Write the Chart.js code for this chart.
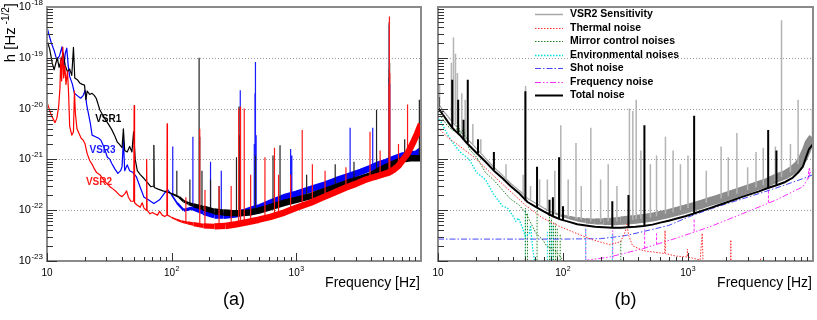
<!DOCTYPE html>
<html>
<head>
<meta charset="utf-8">
<script src="https://cdn.jsdelivr.net/npm/chart.js@4.4.1/dist/chart.umd.min.js"></script>
<style>
  body { margin: 0; background: #fff; }
  #wrap { position: relative; width: 817px; height: 320px; overflow: hidden; }
  canvas { position: absolute; left: 0; top: 0; }
</style>
</head>
<body>
<div id="wrap">
  <canvas id="panelA" width="817" height="320"></canvas>
  <canvas id="panelB" width="817" height="320"></canvas>
</div>
<script>
const FONT = '"Liberation Sans", Arial, Helvetica, sans-serif';

// decade ticks
const yDecades = [1e-18, 1e-19, 1e-20, 1e-21, 1e-22, 1e-23];
const yDecadeExp = ['-18', '-19', '-20', '-21', '-22', '-23'];
const xDecades = [10, 100, 1000];
const xDecadeExp = ['', '2', '3'];

// ---- panel (a): [frequency Hz, h] ----
const vsr2 = [[10,1.35e-20],[10.4,1e-20],[10.8,7.5e-21],[11.3,6e-21],[11.6,5.3e-21],[12,6.5e-21],[12.4,1.1e-20],[12.7,2.5e-20],[12.9,1e-19],[13.1,3.5e-20],[13.4,1.6e-19],[13.6,4e-20],[13.9,7e-20],[14.2,3e-20],[14.6,5.5e-20],[14.9,2e-20],[15.2,4.5e-21],[15.8,3e-21],[16.3,3.5e-21],[16.6,2.2e-20],[16.9,8e-21],[17.4,4e-21],[18,3.3e-21],[18.8,2.6e-21],[19.5,2.4e-21],[20.2,2e-21],[21,1.3e-21],[22,9.5e-22],[23,8e-22],[24,6.5e-22],[25,5.5e-22],[26.5,5e-22],[28,4.2e-22],[30,3.4e-22],[32,2.9e-22],[34,2.6e-22],[36,2.3e-22],[38,2e-22],[40,1.85e-22],[42,2.1e-22],[43.5,2.4e-22],[45,1.8e-22],[47,1.5e-22],[49.6,1.5e-22],[50,1.15e-20],[50.4,1.4e-22],[53,1.25e-22],[56,1.15e-22],[58,1.4e-22],[60,1.1e-22],[62.5,1e-22],[63,1e-21],[63.5,1e-22],[67,8.5e-23],[70,9e-23],[73,8.5e-23],[77,8e-23],[80,9.5e-23],[84,8e-23],[88,7.5e-23],[91.5,8e-23],[92,5e-21],[92.5,8e-23],[97,7.5e-23],[100,7.2e-23],[110,6.5e-23],[120,6e-23],[135,5.6e-23],[150,5.3e-23],[180,4.9e-23],[220,4.8e-23],[270,4.9e-23],[330,5.3e-23],[400,5.8e-23],[500,6.5e-23],[620,7.4e-23],[800,9e-23],[1000,1.12e-22],[1300,1.4e-22],[1600,1.75e-22],[2000,2.2e-22],[2500,2.8e-22],[3000,3.3e-22],[3500,3.9e-22],[4200,4.5e-22],[5000,5.1e-22],[5500,5.5e-22],[6000,6.2e-22],[6600,7.5e-22],[7200,1e-21],[7800,1.3e-21],[8600,2.1e-21],[9300,3.2e-21],[10000,5e-21]];
const vsr2Lines = [[130,5.7e-23,1.8e-22],[168,5e-23,4e-21],[185,4.9e-23,2.5e-22],[240,4.8e-23,3e-22],[300,5e-23,3e-22],[345,5.3e-23,1e-20],[357,5.4e-23,1.1e-20],[382,5.6e-23,1e-20],[430,6e-23,5e-22],[560,7e-23,1.1e-21],[668,7.8e-23,1.7e-21],[720,8.3e-23,5e-22],[900,1e-22,5e-22],[1115,1.2e-22,3.8e-21],[1345,1.42e-22,8e-22],[1700,1.85e-22,6e-22],[2500,2.8e-22,7e-22],[3900,4.3e-22,3.5e-21],[4700,4.9e-22,1.5e-21],[5540,5.5e-22,3e-20],[5580,5.6e-22,6.5e-19],[5620,5.6e-22,5e-20],[6600,7.5e-22,2e-21],[7800,1.3e-21,1.2e-20]];

const vsr1 = [[10,2.2e-19],[10.5,1.5e-19],[11,8e-20],[11.4,5.8e-20],[11.8,8e-20],[12.1,1e-19],[12.5,6.5e-20],[13,9e-20],[13.5,1.25e-19],[14,7e-20],[14.6,5.3e-20],[15.2,6e-20],[15.8,4.5e-20],[16.3,1.6e-19],[16.7,4e-20],[17.5,3.7e-20],[18.3,3.2e-20],[19.2,3e-20],[20,2.9e-20],[20.5,1.5e-20],[21,2.2e-20],[22,1.9e-20],[23,2e-20],[24,1.8e-20],[24.8,1.6e-20],[25.5,1.3e-20],[26.5,9.5e-21],[28,7.5e-21],[29.5,6e-21],[31,5e-21],[33,3.9e-21],[35,2.9e-21],[36.6,2.2e-21],[38,2e-21],[40,1.7e-21],[41,4e-21],[42,1.5e-21],[44,1.4e-21],[46,1.8e-21],[48,1.4e-21],[49.5,3.5e-21],[51,1e-21],[53,6e-22],[56,5e-22],[60,4.2e-22],[64,3.5e-22],[68,2.9e-22],[71.5,3e-22],[72,1.9e-21],[72.5,2.8e-22],[78,2.6e-22],[85,2.4e-22],[92,2.3e-22],[101,2.1e-22],[115,1.8e-22],[125,1.5e-22],[137,1.35e-22],[150,1.25e-22],[180,1.1e-22],[220,9.5e-23],[260,9e-23],[300,8.8e-23],[350,8.7e-23],[420,9e-23],[500,9.8e-23],[620,1.15e-22],[800,1.4e-22],[1000,1.6e-22],[1300,1.9e-22],[1700,2.4e-22],[2100,2.9e-22],[2700,3.6e-22],[3300,4.2e-22],[3900,4.8e-22],[4600,6e-22],[5300,7.2e-22],[6200,8.5e-22],[7200,1e-21],[8200,1.05e-21],[9200,1.05e-21],[10000,1.05e-21]];
const vsr1Lines = [[110,2e-22,6e-22],[140,1.3e-22,4e-22],[166,1.15e-22,1e-19],[168,1.15e-22,2.8e-21],[175,1.1e-22,6e-22],[205,1e-22,4e-22],[240,9.2e-23,3e-22],[331,8.8e-23,1.1e-21],[347,8.8e-23,1.1e-20],[355,8.8e-23,3e-21],[470,9.5e-23,1.2e-21],[650,1.2e-22,1.2e-21],[740,1.3e-22,1.9e-21],[1210,1.8e-22,5e-22],[2050,2.8e-22,8e-22],[2900,3.8e-22,9e-22],[4400,5.6e-22,9.5e-21],[5540,7.2e-22,6e-20],[5560,7.5e-22,5e-19],[5600,7.5e-22,8e-20],[7400,1e-21,2.5e-21],[9700,1.05e-21,1.5e-20]];

const vsr3 = [[10,4e-19],[10.4,2.8e-19],[10.8,2e-19],[11.4,1.4e-19],[12,9e-20],[12.6,1.1e-19],[13.2,1.65e-19],[13.6,6e-20],[14,1.2e-19],[14.4,1.55e-19],[14.8,7e-20],[15.2,4.3e-20],[16,3e-20],[16.6,2e-20],[17.5,1.8e-20],[18.6,1.6e-20],[19.5,1.8e-20],[20.2,2.3e-20],[20.8,1.2e-20],[21.5,8e-21],[22.3,5e-21],[23,3e-21],[24.5,2.8e-21],[26,2.6e-21],[27,2.4e-21],[28.5,1.8e-21],[30.5,1.1e-21],[32,1e-21],[33,8.4e-22],[35,6.5e-22],[37,5.3e-22],[39,6e-22],[40,7.2e-22],[41,2.4e-21],[42,6e-22],[44,7.8e-22],[46,6e-22],[49,5.5e-22],[52,4.6e-22],[56,2.8e-22],[60,1.8e-22],[65,1.6e-22],[72,1.35e-22],[80,1.6e-22],[88,2.2e-22],[93,2.5e-22],[100,2e-22],[110,1.4e-22],[125,1e-22],[146,1.1e-22],[180,9e-23],[220,7.8e-23],[260,7.8e-23],[320,8.2e-23],[400,9.5e-23],[450,1.05e-22],[500,1.12e-22],[620,1.4e-22],[800,1.8e-22],[1000,2.1e-22],[1300,2.6e-22],[1700,3.2e-22],[2100,3.9e-22],[2700,4.8e-22],[3300,5.7e-22],[3900,6.7e-22],[4600,8e-22],[5300,9e-22],[6200,1.05e-21],[7200,1.2e-21],[8200,1.25e-21],[9200,1.3e-21],[10000,1.5e-21]];
const vsr3Lines = [[102,2e-22,1.8e-21],[148,1.1e-22,2.8e-21],[205,8.5e-23,9e-22],[250,7.8e-23,6e-22],[355,8.5e-23,2.3e-20],[460,1.05e-22,2e-21],[466,1.06e-22,2e-20],[470,1.08e-22,8.3e-20],[476,1.1e-22,3e-21],[900,2e-22,1.6e-21],[920,2e-22,1.2e-21],[2700,4.8e-22,4.2e-21],[4100,7e-22,4.2e-21],[5540,9e-22,4e-20],[5570,9e-22,4.4e-19],[5610,9e-22,3e-20],[9950,1.45e-21,1.8e-20]];

// ---- panel (b): VSR2 noise budget ----
const sens = [[10,1.3e-20],[11,9e-21],[12,7e-21],[13,5.5e-21],[14,4.5e-21],[15,3.6e-21],[17,2.6e-21],[20,1.7e-21],[24,1.05e-21],[28,7e-22],[33,4.8e-22],[38,3.4e-22],[45,2.4e-22],[52,1.7e-22],[61,1.35e-22],[70,1.1e-22],[83,9e-23],[95,8e-23],[112,7.2e-23],[130,6.6e-23],[152,6.2e-23],[180,6e-23],[210,6e-23],[250,6e-23],[290,6.2e-23],[330,6.4e-23],[380,6.6e-23],[440,6.9e-23],[520,7.3e-23],[600,7.9e-23],[700,8.6e-23],[800,9.4e-23],[950,1.05e-22],[1100,1.17e-22],[1300,1.32e-22],[1500,1.48e-22],[1700,1.63e-22],[2000,1.85e-22],[2750,2.4e-22],[3700,3.1e-22],[4300,3.5e-22],[5100,4.3e-22],[6000,5e-22],[6900,6.2e-22],[7600,7.6e-22],[8300,1.05e-21],[8800,1.45e-21],[9300,2.1e-21],[10000,2.7e-21]];
const sensLines = [[10.3,1.2e-20,3e-20],[12.8,6e-21,8e-20],[13.3,5.5e-21,2.5e-19],[13.8,5e-21,1.2e-19],[14.3,4.5e-21,5e-20],[15.5,3.4e-21,2e-20],[16.5,2.8e-21,1.5e-20],[19,2e-21,5e-21],[22,1.3e-21,2.5e-21],[35,4e-22,8e-22],[48,2e-22,5e-22],[50.2,1.7e-22,2.8e-20],[55,1.6e-22,3e-22],[65,1.2e-22,4e-22],[75,1e-22,4e-22],[86,8.5e-23,6e-22],[96,8e-23,4.7e-21],[110,7.2e-23,4e-22],[127,6.6e-23,2.1e-21],[140,6.4e-23,3e-22],[167,6e-23,4.2e-21],[200,6e-23,4e-22],[230,6e-23,8e-22],[270,6e-23,3e-22],[340,6.4e-23,1e-20],[362,6.5e-23,9e-21],[385,6.6e-23,1.5e-20],[420,6.8e-23,1.5e-21],[500,7.2e-23,8e-22],[560,7.6e-23,1.2e-21],[660,8.4e-23,2.8e-21],[760,9e-23,1.5e-21],[870,1e-22,8e-22],[1000,1.1e-22,1.2e-21],[1400,1.4e-22,6e-22],[1840,1.7e-22,1.8e-21],[2100,1.9e-22,1.1e-21],[2460,2.1e-22,3.3e-21],[3000,2.5e-22,7e-22],[3500,2.8e-22,1.4e-21],[4000,3.1e-22,1.7e-21],[5000,3.7e-22,1.8e-21],[5600,4.5e-22,5.5e-19],[6600,5.5e-22,2e-21],[7600,8e-22,1.5e-20],[9900,2.6e-21,1e-20]];

const thermal = [[10,4.2e-21],[12,2.7e-21],[15,1.8e-21],[20,1.05e-21],[27.7,4.8e-22],[37.6,2.4e-22],[51,1.2e-22],[69,7e-23],[94,4.8e-23],[128,3.5e-23],[174,2.6e-23],[236,2.1e-23],[290,2.4e-23],[315,3.8e-23],[325,5.3e-23],[335,3.2e-23],[360,2e-23],[436,1.6e-23],[590,1.45e-23],[650,1.4e-23],[655,4e-23],[662,1.4e-23],[800,1.25e-23],[985,1.2e-23],[990,1.7e-23],[995,1.2e-23],[1250,1.05e-23],[1300,3.5e-23],[1320,9e-24],[1500,6e-24],[2190,5e-24],[2200,2.6e-23],[2210,5e-24],[3790,5e-24],[3800,1.1e-23],[3810,5e-24],[10000,5e-24]];
const mirror = [[10,8.8e-21],[11,6e-21],[12,4.5e-21],[13,3.8e-21],[14,3.5e-21],[14.5,6e-21],[15,3e-21],[16,4e-21],[16.5,2.5e-21],[17.8,1.6e-21],[20.4,1.1e-21],[24,5.5e-22],[27.7,4e-22],[32.8,2.5e-22],[37.6,1.7e-22],[44.7,1.25e-22],[50,9e-23],[53.7,6.5e-23],[60.8,3.5e-23],[69,2.6e-23],[73.6,2e-23],[83,1.7e-23],[89,1.5e-23],[98,1.1e-23],[104,7e-24]];
const mirrorLines = [[50,6e-24,1.1e-22],[52,6e-24,9e-23],[62,6e-24,1e-22],[78,6e-24,8e-23],[81,6e-24,7e-23],[84,6e-24,6e-23],[87,6e-24,5.5e-23],[90,6e-24,4.5e-23],[95,6e-24,3.5e-23],[290,6e-24,2.5e-23]];
const env = [[10,7e-21],[11,4.5e-21],[12,3e-21],[13,2.2e-21],[15,1.4e-21],[17.8,1e-21],[20.4,5.5e-22],[24,4e-22],[27.7,2.1e-22],[32.8,1.2e-22],[36,1.1e-22],[39.4,8e-23],[42,6e-23],[44,7e-23],[47.5,4.5e-23],[50,3e-23],[53.7,3.5e-23],[55,5e-23],[57,1.9e-23],[61,6e-24]];
const envLines = [[50,6e-24,1e-22],[75,6e-24,4e-23],[80,6e-24,6e-23],[83,6e-24,5e-23],[152,6e-24,4.4e-23],[248,6e-24,3.5e-23]];
const shot = [[10,2.7e-23],[100,2.7e-23],[200,2.75e-23],[300,3.1e-23],[400,3.6e-23],[500,4.1e-23],[700,5e-23],[1000,7.3e-23],[1500,1.05e-22],[2000,1.32e-22],[3000,1.8e-22],[5000,2.7e-22],[7000,3.6e-22],[9000,4.5e-22],[10000,5e-22]];
const freqNoise = [[125,6e-24],[140,1e-23],[236,1.2e-23],[436,1.75e-23],[800,2.8e-23],[1490,4.7e-23],[2750,8.6e-23],[5100,1.6e-22],[8300,2.9e-22],[9000,4e-22],[9500,5.5e-22],[10000,6e-22]];
const freqLines = [[152,6e-24,4.4e-23],[250,6e-24,4e-23],[450,1.75e-23,4.2e-23],[560,2.1e-23,3.5e-23],[1120,3.8e-23,7e-23],[4400,1.4e-22,3.6e-22],[9200,4.2e-22,6.5e-22],[9400,4.8e-22,7e-22]];
const total = [[10,1.05e-20],[11,7.5e-21],[12,5.5e-21],[13,4.2e-21],[14,3.5e-21],[15,3e-21],[17,2.1e-21],[20,1.4e-21],[24,9e-22],[28,6e-22],[33,4.2e-22],[38,3e-22],[45,2.1e-22],[52,1.45e-22],[61,1.15e-22],[70,9.5e-23],[83,7.6e-23],[95,6.6e-23],[112,5.9e-23],[130,5.3e-23],[152,5e-23],[180,4.7e-23],[210,4.6e-23],[250,4.5e-23],[290,4.5e-23],[330,4.6e-23],[380,4.7e-23],[440,4.9e-23],[520,5.2e-23],[600,5.7e-23],[700,6.2e-23],[800,6.8e-23],[950,7.6e-23],[1100,8.5e-23],[1300,9.8e-23],[1500,1.1e-22],[1700,1.22e-22],[2000,1.4e-22],[2750,1.85e-22],[3700,2.35e-22],[4300,2.7e-22],[5100,3.1e-22],[6000,3.6e-22],[6900,4.4e-22],[7600,5.5e-22],[8300,7.2e-22],[8800,1.1e-21],[9300,1.6e-21],[10000,2e-21]];
const totalLines = [[10.1,1.05e-20,1.7e-20],[13,4.2e-21,3.7e-20],[14.5,3.2e-21,1.5e-20],[16,2.5e-21,6e-21],[17.3,2.1e-21,3.7e-20],[20.9,1.3e-21,2.5e-21],[28,6e-22,1.4e-21],[50,1.55e-22,2.2e-20],[62,1.12e-22,7.2e-22],[78,7.8e-23,1.6e-22],[83,7.6e-23,1.8e-22],[93,6.7e-23,1.1e-21],[100,6.3e-23,1.2e-22],[248,4.5e-23,1.5e-22],[334,4.6e-23,2e-22],[448,4.9e-23,4.7e-21],[1120,8.6e-23,7.2e-21],[4380,2.7e-22,3.8e-21],[5100,3.1e-22,1.5e-21]];

const curve = pairs => pairs.map(([x, y]) => ({ x, y }));
const needles = list => list.flatMap(([x, lo, hi]) => [{ x, y: lo }, { x, y: hi }, { x, y: null }]);

function drawPow(ctx, base, exp, cx, cy, size, align) {
  const supSize = Math.round(size * 0.72);
  ctx.font = `${size}px ${FONT}`;
  const wb = ctx.measureText(base).width;
  ctx.font = `${supSize}px ${FONT}`;
  const we = exp ? ctx.measureText(exp).width + 0.5 : 0;
  const x0 = align === 'right' ? cx - wb - we : cx - (wb + we) / 2;
  ctx.textAlign = 'left';
  ctx.textBaseline = 'middle';
  ctx.font = `${size}px ${FONT}`;
  ctx.fillText(base, x0, cy);
  if (exp) {
    ctx.font = `${supSize}px ${FONT}`;
    ctx.fillText(exp, x0 + wb + 0.5, cy - size * 0.38);
  }
}

// ROOT-style frame, inner ticks, labels and legend
const rootAxes = {
  id: 'rootAxes',
  beforeDatasetsDraw(chart) {
    const { ctx, chartArea: a, scales: { y } } = chart;
    ctx.save();
    ctx.strokeStyle = '#9a9a9a';
    ctx.lineWidth = 1;
    ctx.setLineDash([1, 2]);
    yDecades.slice(1, -1).forEach(v => {
      const py = Math.round(y.getPixelForValue(v)) + 0.5;
      ctx.beginPath(); ctx.moveTo(a.left, py); ctx.lineTo(a.right, py); ctx.stroke();
    });
    ctx.restore();
  },
  afterDatasetsDraw(chart, args, opts) {
    const { ctx, chartArea: a, scales: { x, y } } = chart;
    ctx.save();
    ctx.strokeStyle = '#8a8a8a';
    ctx.lineWidth = 2;
    ctx.strokeRect(a.left, a.top, a.right - a.left, a.bottom - a.top);

    ctx.strokeStyle = '#333';
    ctx.lineWidth = 1;
    ctx.beginPath();
    for (let e = -23; e < -18; e++) {
      for (let k = 1; k < 10; k++) {
        const py = Math.round(y.getPixelForValue(k * Math.pow(10, e))) + 0.5;
        ctx.moveTo(a.left, py); ctx.lineTo(a.left + (k === 1 ? 10 : 6), py);
      }
    }
    for (let d = 10; d < 10000; d *= 10) {
      for (let k = 1; k < 10; k++) {
        const px = Math.round(x.getPixelForValue(k * d)) + 0.5;
        ctx.moveTo(px, a.bottom); ctx.lineTo(px, a.bottom - (k === 1 ? 8 : 4));
      }
    }
    ctx.stroke();

    ctx.fillStyle = '#000';
    if (opts.yLabels) {
      yDecades.forEach((v, i) => drawPow(ctx, '10', yDecadeExp[i], a.left - 4, y.getPixelForValue(v), 11, 'right'));
    }
    xDecades.forEach((v, i) => drawPow(ctx, '10', xDecadeExp[i], x.getPixelForValue(v), a.bottom + 12, 10, 'center'));

    ctx.font = `14px ${FONT}`;
    ctx.textAlign = 'right';
    ctx.textBaseline = 'middle';
    ctx.fillText('Frequency [Hz]', a.right - 1, 283);

    ctx.font = `18px ${FONT}`;
    ctx.textAlign = 'center';
    ctx.fillText(opts.tag, (a.left + a.right) / 2, 300);

    if (opts.yTitle) {
      ctx.save();
      ctx.translate(11, 3);
      ctx.rotate(-Math.PI / 2);
      ctx.textAlign = 'left';
      ctx.font = `15px ${FONT}`;
      const w1 = ctx.measureText('h [Hz').width;
      const w3 = ctx.measureText(']').width;
      ctx.font = `10px ${FONT}`;
      const w2 = ctx.measureText(' -1/2').width;
      const px = -(w1 + w2 + w3);
      ctx.font = `15px ${FONT}`;
      ctx.fillText('h [Hz', px, 0);
      ctx.font = `10px ${FONT}`;
      ctx.fillText(' -1/2', px + w1, -5);
      ctx.font = `15px ${FONT}`;
      ctx.fillText(']', px + w1 + w2, 0);
      ctx.restore();
    }

    (opts.notes || []).forEach(n => {
      ctx.font = `bold 10px ${FONT}`;
      ctx.fillStyle = n.color;
      ctx.textAlign = 'center';
      ctx.fillText(n.text, x.getPixelForValue(n.f), y.getPixelForValue(n.h));
    });

    if (opts.legend) {
      const L = opts.legend;
      chart.data.datasets.filter(d => d.label).forEach((d, i) => {
        const ly = Math.round(L.top + i * L.step) + 0.5;
        ctx.strokeStyle = d.borderColor;
        ctx.lineWidth = d.borderWidth;
        ctx.setLineDash(d.borderDash || []);
        ctx.beginPath(); ctx.moveTo(L.x0, ly); ctx.lineTo(L.x1, ly); ctx.stroke();
        ctx.setLineDash([]);
        ctx.fillStyle = '#000';
        ctx.font = `bold 10.5px ${FONT}`;
        ctx.textAlign = 'left';
        ctx.fillText(d.label, L.tx, ly);
      });
    }
    ctx.restore();
  }
};

function baseOptions(padding, axes) {
  return {
    responsive: false,
    animation: false,
    events: [],
    devicePixelRatio: 1,
    layout: { padding },
    scales: {
      x: { type: 'logarithmic', min: 10, max: 10000, display: false },
      y: { type: 'logarithmic', min: 1e-23, max: 1e-18, display: false }
    },
    elements: {
      point: { radius: 0 },
      line: { tension: 0, borderJoinStyle: 'round', fill: false }
    },
    datasets: { line: { clip: 0 } },
    plugins: { legend: { display: false }, tooltip: { enabled: false }, rootAxes: axes }
  };
}

// the dense spectra widen into a band above ~100 Hz
const band = (from, max) => c => {
  const w = 1.2 + (Math.log10(c.p1.parsed.x) - Math.log10(from)) * 12;
  return Math.min(max, Math.max(1.2, w));
};
const bandA = band(100, 6.5);

new Chart(document.getElementById('panelA'), {
  type: 'line',
  data: {
    datasets: [
      { label: 'VSR2', data: curve(vsr2), borderColor: '#ff0000', borderWidth: 1.2, segment: { borderWidth: bandA }, order: 1 },
      { label: '', data: needles(vsr2Lines), borderColor: '#ff1a1a', borderWidth: 1.2, order: 1 },
      { label: 'VSR1', data: curve(vsr1), borderColor: '#000000', borderWidth: 1.2, segment: { borderWidth: bandA }, order: 2 },
      { label: '', data: needles(vsr1Lines), borderColor: '#222222', borderWidth: 1.2, order: 2 },
      { label: 'VSR3', data: curve(vsr3), borderColor: '#0000ff', borderWidth: 1.2, segment: { borderWidth: bandA }, order: 3 },
      { label: '', data: needles(vsr3Lines), borderColor: '#1a1aff', borderWidth: 1.2, order: 3 }
    ]
  },
  options: baseOptions({ left: 47, top: 7, right: 396, bottom: 59 }, {
    yLabels: true, yTitle: true, tag: '(a)',
    notes: [
      { text: 'VSR1', f: 31, h: 6.1e-21, color: '#000' },
      { text: 'VSR3', f: 27.9, h: 1.53e-21, color: '#1a1aff' },
      { text: 'VSR2', f: 26.1, h: 3.6e-22, color: '#ff1a1a' }
    ]
  }),
  plugins: [rootAxes]
});

const dotted = [1.5, 1.5];
const bandB = band(80, 9);
new Chart(document.getElementById('panelB'), {
  type: 'line',
  data: {
    datasets: [
      { label: 'VSR2 Sensitivity', data: curve(sens), borderColor: '#a8a8a8', borderWidth: 1.5,
        segment: {
          borderWidth: bandB,
          borderColor: c => c.p1.parsed.x > 90 ? '#8c8c8c' : '#a0a0a0'
        }, order: 10 },
      { label: 'Thermal noise', data: curve(thermal), borderColor: '#ff3030', borderWidth: 1, borderDash: dotted, order: 5 },
      { label: 'Mirror control noises', data: curve(mirror), borderColor: '#1e7d1e', borderWidth: 1, borderDash: dotted, order: 5 },
      { label: 'Environmental noises', data: curve(env), borderColor: '#00dede', borderWidth: 1.3, borderDash: dotted, order: 5 },
      { label: 'Shot noise', data: curve(shot), borderColor: '#4646ff', borderWidth: 1, borderDash: [6, 2, 1.5, 2], order: 5 },
      { label: 'Frequency noise', data: curve(freqNoise), borderColor: '#ff2cff', borderWidth: 1, borderDash: [6, 2, 1.5, 2, 1.5, 2], order: 5 },
      { label: 'Total noise', data: curve(total), borderColor: '#000000', borderWidth: 2, order: 2 },
      { label: '', data: needles(sensLines), borderColor: '#b4b4b4', borderWidth: 1.5, order: 9 },
      { label: '', data: needles(mirrorLines), borderColor: '#1e7d1e', borderWidth: 1, borderDash: dotted, order: 5 },
      { label: '', data: needles(envLines), borderColor: '#00dede', borderWidth: 1, borderDash: dotted, order: 5 },
      { label: '', data: needles(freqLines), borderColor: '#ff2cff', borderWidth: 1, borderDash: [3, 1.5], order: 5 },
      { label: '', data: needles(totalLines), borderColor: '#000000', borderWidth: 2, order: 1 }
    ]
  },
  options: baseOptions({ left: 438, top: 7, right: 4, bottom: 59 }, {
    yLabels: false, yTitle: false, tag: '(b)',
    legend: { x0: 535, x1: 563, tx: 570, top: 14, step: 13.5 }
  }),
  plugins: [rootAxes]
});
</script>
</body>
</html>
